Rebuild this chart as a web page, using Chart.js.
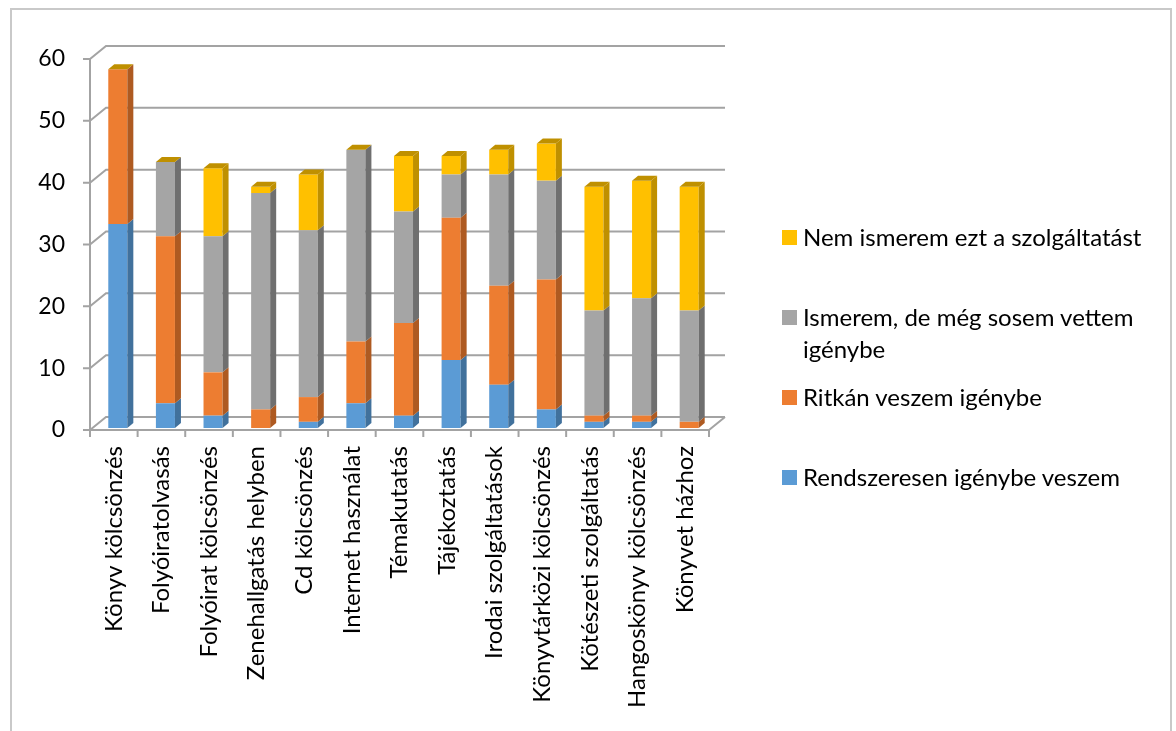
<!DOCTYPE html>
<html lang="hu">
<head>
<meta charset="utf-8">
<title>Szolgáltatások igénybevétele</title>
<script src="https://cdn.jsdelivr.net/npm/chart.js@4.4.1/dist/chart.umd.min.js"></script>
<style>
  body { margin: 0; background: #fff; font-family: Lato, "Open Sans", sans-serif; }
  #wrap { position: relative; width: 1176px; height: 731px; overflow: hidden; }
  #frame { position: absolute; left: 10px; top: 8px; width: 1162px; height: 760px; border: 2px solid #c9c9c9; box-sizing: border-box; }
  #c { position: absolute; left: 0; top: 0; }
  #legend { position: absolute; left: 782px; top: 0; font-size: 24px; color: #000; }
  .lg-item { position: absolute; left: 0; display: flex; align-items: flex-start; width: 390px; line-height: 32px; }
  .lg-box { width: 15px; height: 15px; margin-top: 9px; margin-right: 6px; flex: none; }
  .lg-text { width: 368px; }
</style>
</head>
<body>
<div id="wrap">
  <div id="frame"></div>
  <canvas id="c" width="1176" height="731"></canvas>
  <div id="legend"></div>
</div>
<script>
// --- data ---
const categories = [
  'Könyv kölcsönzés', 'Folyóiratolvasás', 'Folyóirat kölcsönzés', 'Zenehallgatás helyben',
  'Cd kölcsönzés', 'Internet használat', 'Témakutatás', 'Tájékoztatás',
  'Irodai szolgáltatások', 'Könyvtárközi kölcsönzés', 'Kötészeti szolgáltatás',
  'Hangoskönyv kölcsönzés', 'Könyvet házhoz'
];
const rendszeresen = [33, 4, 2, 0, 1, 4, 2, 11, 7, 3, 1, 1, 0];
const ritkan       = [25, 27, 7, 3, 4, 10, 15, 23, 16, 21, 1, 1, 1];
const ismerem      = [0, 12, 22, 35, 27, 31, 18, 7, 18, 16, 17, 19, 18];
const nemIsmerem   = [0, 0, 11, 1, 9, 0, 9, 3, 4, 6, 20, 19, 20];
const yTicks = [0, 10, 20, 30, 40, 50, 60];

const FONT = 'Lato, "Open Sans", sans-serif';
const DEPTH = { x: 16, y: -13 };   // back wall offset
const BAR_D = { x: 6, y: -5 };     // bar side/top depth
const SHADE = ['#41719c', '#ae5a21', '#6f6f6f', '#bf9000'];

// 3D look: back wall grid, floor, then bar side & top faces
const pseudo3d = {
  id: 'pseudo3d',
  beforeDatasetsDraw(chart) {
    const { ctx, chartArea: a } = chart;
    const y = chart.scales.y;
    ctx.save();
    ctx.strokeStyle = '#a3a3a3';
    ctx.lineWidth = 2;
    ctx.beginPath();
    // front axis + tick marks
    ctx.moveTo(a.left, y.getPixelForValue(60));
    ctx.lineTo(a.left, y.getPixelForValue(0));
    yTicks.forEach(v => {
      const py = y.getPixelForValue(v);
      ctx.moveTo(a.left - 7, py);
      ctx.lineTo(a.left, py);
      // diagonal to wall, then back wall gridline
      ctx.lineTo(a.left + DEPTH.x, py + DEPTH.y);
      ctx.lineTo(a.right + DEPTH.x, py + DEPTH.y);
    });
    // floor front edge and right edge
    const p0 = y.getPixelForValue(0);
    ctx.moveTo(a.left, p0);
    ctx.lineTo(a.right, p0);
    ctx.lineTo(a.right + DEPTH.x, p0 + DEPTH.y);
    // category tick marks
    const step = (a.right - a.left) / categories.length;
    for (let i = 0; i <= categories.length; i++) {
      const px = a.left + i * step;
      ctx.moveTo(px, p0);
      ctx.lineTo(px, p0 + 7);
    }
    ctx.stroke();
    ctx.restore();

    ctx.save();
    ctx.translate(4, -2);
  },
  afterDatasetsDraw(chart) {
    const { ctx } = chart;
    const last = chart.data.datasets.length - 1;
    chart.data.datasets.forEach((ds, di) => {
      chart.getDatasetMeta(di).data.forEach(el => {
        const { x, y, base, width } = el.getProps(['x', 'y', 'base', 'width'], true);
        const l = x - width / 2, r = x + width / 2;
        const top = Math.min(y, base), bot = Math.max(y, base);
        ctx.fillStyle = SHADE[di];
        ctx.beginPath();
        ctx.moveTo(r, top);
        ctx.lineTo(r + BAR_D.x, top + BAR_D.y);
        ctx.lineTo(r + BAR_D.x, bot + BAR_D.y);
        ctx.lineTo(r, bot);
        ctx.closePath();
        ctx.fill();
        if (di === last) {
          ctx.beginPath();
          ctx.moveTo(l, top);
          ctx.lineTo(l + BAR_D.x, top + BAR_D.y);
          ctx.lineTo(r + BAR_D.x, top + BAR_D.y);
          ctx.lineTo(r, top);
          ctx.closePath();
          ctx.fill();
        }
      });
    });
    ctx.restore();
  }
};

const chart = new Chart(document.getElementById('c'), {
  type: 'bar',
  data: {
    labels: categories,
    datasets: [
      { label: 'Rendszeresen igénybe veszem', data: rendszeresen, backgroundColor: '#5b9bd5' },
      { label: 'Ritkán veszem igénybe', data: ritkan, backgroundColor: '#ed7d31' },
      { label: 'Ismerem, de még sosem vettem igénybe', data: ismerem, backgroundColor: '#a5a5a5' },
      { label: 'Nem ismerem ezt a szolgáltatást', data: nemIsmerem, backgroundColor: '#ffc000' }
    ]
  },
  options: {
    responsive: false,
    animation: false,
    layout: { padding: { left: 0, top: 59, right: 467, bottom: 0 } },
    datasets: { bar: { barPercentage: 0.4, categoryPercentage: 1, borderWidth: 0 } },
    plugins: { legend: { display: false }, tooltip: { enabled: false } },
    scales: {
      x: {
        stacked: true,
        grid: { display: false, drawTicks: false },
        border: { display: false },
        afterFit(s) { s.height = 301; },
        ticks: {
          autoSkip: false, minRotation: 90, maxRotation: 90, padding: 16,
          color: '#000', font: { family: FONT, size: 24 }
        }
      },
      y: {
        stacked: true, min: 0, max: 60,
        grid: { display: false, drawTicks: false },
        border: { display: false },
        afterFit(s) { s.width = 90; },
        ticks: {
          stepSize: 10, padding: 25,
          color: '#000', font: { family: FONT, size: 23 }
        }
      }
    }
  },
  plugins: [pseudo3d]
});

// legend, built from the datasets (reversed like the original)
const legendTops = [221, 301, 381, 461];
const legend = document.getElementById('legend');
chart.data.datasets.slice().reverse().forEach((ds, i) => {
  const item = document.createElement('div');
  item.className = 'lg-item';
  item.style.top = legendTops[i] + 'px';
  item.innerHTML = '<span class="lg-box" style="background:' + ds.backgroundColor + '"></span>' +
    '<span class="lg-text">' + ds.label + '</span>';
  legend.appendChild(item);
});
</script>
</body>
</html>
